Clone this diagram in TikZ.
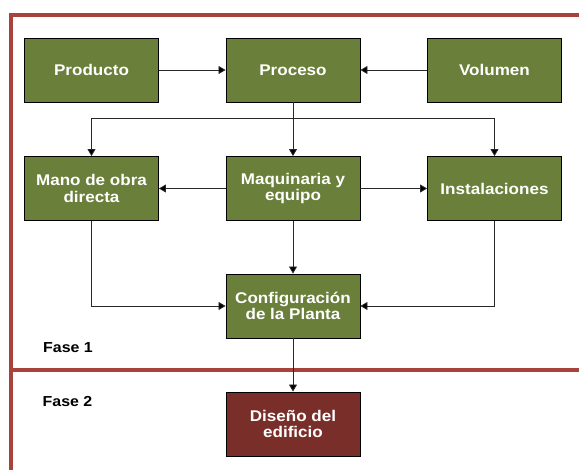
\documentclass[tikz,border=0pt]{standalone}
\usepackage{fontspec}
\setmainfont{Liberation Sans}[FakeStretch=1.1]
\usetikzlibrary{arrows.meta}
\definecolor{boxgreen}{RGB}{106,127,58}
\definecolor{boxred}{RGB}{122,46,41}
\definecolor{phaseline}{RGB}{168,66,60}
\definecolor{wire}{RGB}{40,40,40}
\begin{document}
\begin{tikzpicture}[x=1pt,y=-1pt,
  block/.style={draw=black, line width=0.9pt, fill=boxgreen,
    minimum width=134pt, minimum height=64pt, inner sep=0pt,
    text=white, align=center, font=\bfseries\fontsize{15.5}{16.5}\selectfont},
  designblock/.style={block, fill=boxred},
  phaselabel/.style={anchor=west, inner sep=0pt, font=\bfseries\fontsize{14.5}{16}\selectfont},
  link/.style={wire, line width=0.8pt, -{Triangle[length=7pt,width=8pt,fill=black]}},
  plainlink/.style={wire, line width=0.8pt},
  frame/.style={phaseline, line width=3.5pt}]
\useasboundingbox (0,0) rectangle (579,470);

% phase frame
\draw[frame] (11,470) -- (11,15) -- (579,15);
\draw[frame] (11,370) -- (579,370);

% phase 1 blocks
\node[block] (prod) at (91.5,70) {Producto};
\node[block] (proc) at (293,70) {Proceso};
\node[block] (vol)  at (494.5,70) {Volumen};
\node[block] (mano) at (91.5,188.5) {Mano de obra\\directa};
\node[block] (maq)  at (293,188.5) {Maquinaria y\\equipo};
\node[block] (inst) at (494.5,188.5) {Instalaciones};
\node[block] (conf) at (293,306) {Configuración\\de la Planta};

% phase 2 block
\node[designblock] (dis) at (293,424) {Diseño del\\edificio};

% phase labels
\node[phaselabel] (f1) at (43,348) {Fase 1};
\node[phaselabel] (f2) at (42.5,402) {Fase 2};

% connectors
\draw[link] (prod) -- (proc);
\draw[link] (vol) -- (proc);
\coordinate (fork) at (293,118);
\draw[plainlink] (proc.south) -- (fork);
\draw[plainlink] (mano.north |- fork) -- (inst.north |- fork);
\draw[link] (mano.north |- fork) -- (mano.north);
\draw[link] (fork) -- (maq.north);
\draw[link] (inst.north |- fork) -- (inst.north);
\draw[link] (maq.west) -- (mano.east);
\draw[link] (maq.east) -- (inst.west);
\draw[link] (maq) -- (conf);
\draw[link] (mano.south) |- (conf.west);
\draw[link] (inst.south) |- (conf.east);
\draw[link] (conf) -- (dis);
\end{tikzpicture}
\end{document}
